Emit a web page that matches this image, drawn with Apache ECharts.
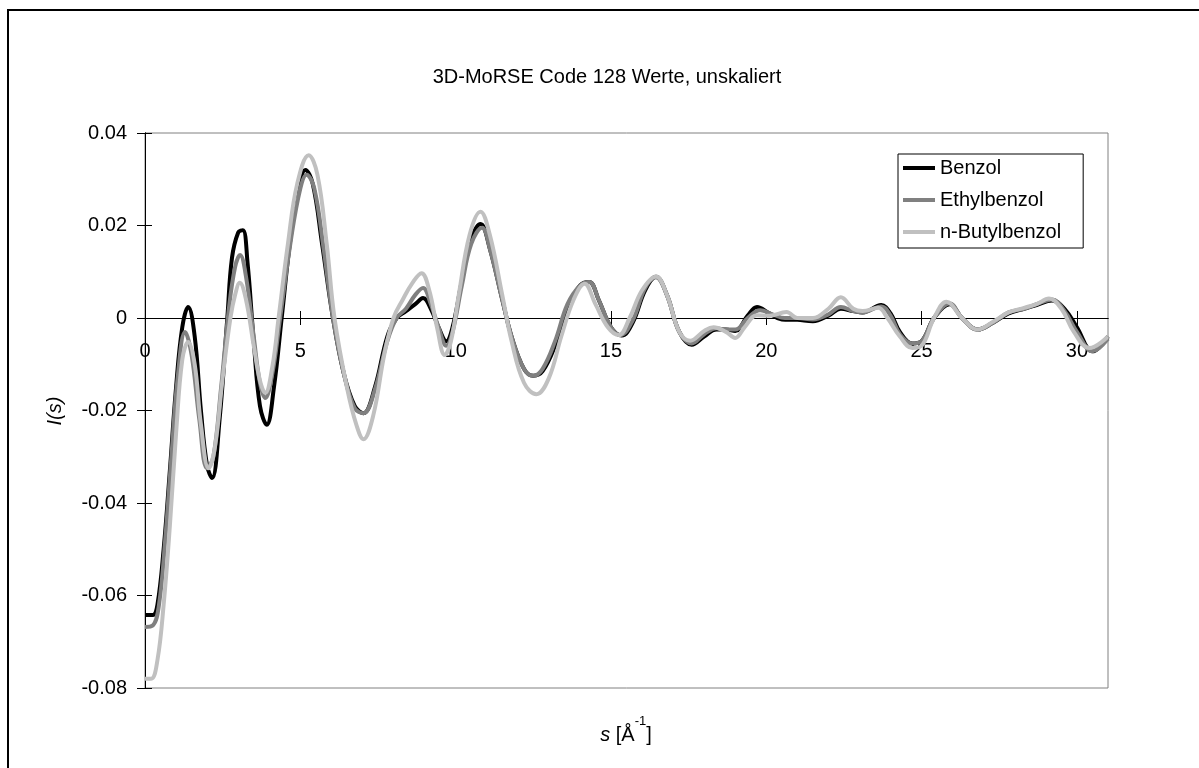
<!DOCTYPE html>
<html>
<head>
<meta charset="utf-8">
<script src="https://cdn.jsdelivr.net/npm/echarts@6/dist/echarts.min.js"></script>
<style>
html,body{margin:0;padding:0;background:#fff;}
#chart{width:1199px;height:768px;}
</style>
</head>
<body>
<div id="chart"></div>
<script>
// ---- data ----
const seriesNames = ['Benzol', 'Ethylbenzol', 'n-Butylbenzol'];
const xTicks = [0, 5, 10, 15, 20, 25, 30];
const yTicks = [-0.08, -0.06, -0.04, -0.02, 0, 0.02, 0.04];

// [s, I(s)] key points
const benzol = [
 [0,-0.0642],[0.25,-0.0642],[0.4,-0.062],[0.6,-0.05],[0.8,-0.033],[1.0,-0.015],[1.2,-0.002],[1.39,0.0024],
 [1.6,-0.004],[1.8,-0.02],[2.0,-0.032],[2.16,-0.0346],[2.4,-0.022],[2.65,0.0],[2.8,0.013],[3.0,0.0185],
 [3.15,0.019],[3.3,0.012],[3.5,-0.005],[3.7,-0.019],[3.92,-0.0231],[4.15,-0.015],[4.4,0.0],[4.7,0.018],
 [5.0,0.0295],[5.16,0.032],[5.4,0.029],[5.7,0.016],[6.05,0.0],[6.4,-0.012],[6.75,-0.019],[7.03,-0.0206],
 [7.4,-0.015],[7.8,-0.004],[8.1,0.0],[8.4,0.0015],[8.7,0.003],[8.95,0.0043],[9.2,0.002],[9.45,-0.002],
 [9.7,-0.005],[9.9,-0.002],[10.2,0.008],[10.5,0.017],[10.8,0.0203],[11.1,0.015],[11.5,0.004],[11.8,-0.004],
 [12.2,-0.011],[12.5,-0.0125],[12.8,-0.0115],[13.2,-0.006],[13.6,0.002],[14.0,0.007],[14.3,0.0078],[14.6,0.004],
 [15.0,-0.002],[15.35,-0.0038],[15.7,-0.001],[16.1,0.006],[16.45,0.0089],[16.8,0.005],[17.2,-0.003],[17.6,-0.0058],
 [18.0,-0.004],[18.4,-0.0025],[18.7,-0.0025],[19.0,-0.0028],[19.4,0.0005],[19.7,0.0024],[20.1,0.001],[20.5,-0.0003],
 [21.0,-0.0004],[21.5,-0.0007],[22.0,0.0005],[22.4,0.002],[22.8,0.0015],[23.1,0.0012],[23.7,0.0028],[24.0,0.001],
 [24.3,-0.003],[24.7,-0.0055],[25.0,-0.005],[25.4,0.0],[25.9,0.003],[26.3,0.0],[26.8,-0.0025],[27.3,-0.001],
 [27.8,0.001],[28.3,0.002],[28.7,0.0028],[29.2,0.0038],[29.6,0.002],[30.0,-0.002],[30.5,-0.0072],[31.0,-0.004]
];
const ethylbenzol = [
 [0,-0.0668],[0.25,-0.0665],[0.45,-0.062],[0.65,-0.048],[0.85,-0.03],[1.05,-0.013],[1.29,-0.003],[1.5,-0.008],
 [1.75,-0.022],[2.0,-0.0325],[2.2,-0.03],[2.45,-0.015],[2.7,0.002],[2.9,0.011],[3.06,0.0136],[3.25,0.009],
 [3.5,-0.004],[3.7,-0.014],[3.87,-0.0173],[4.1,-0.012],[4.35,0.0],[4.7,0.017],[5.0,0.028],[5.2,0.031],
 [5.45,0.028],[5.75,0.015],[6.05,0.0],[6.4,-0.012],[6.75,-0.0195],[7.03,-0.0206],[7.4,-0.0155],[7.8,-0.005],
 [8.1,0.0],[8.4,0.002],[8.7,0.005],[8.95,0.0065],[9.2,0.003],[9.45,-0.002],[9.7,-0.006],[9.9,-0.003],
 [10.2,0.007],[10.5,0.016],[10.85,0.0195],[11.1,0.015],[11.5,0.004],[11.8,-0.004],[12.2,-0.011],[12.5,-0.0125],
 [12.8,-0.011],[13.2,-0.005],[13.6,0.003],[14.0,0.007],[14.3,0.0078],[14.6,0.004],[15.0,-0.002],[15.3,-0.0037],
 [15.7,-0.0005],[16.1,0.0065],[16.45,0.0088],[16.8,0.005],[17.2,-0.003],[17.6,-0.0055],[18.0,-0.0035],[18.4,-0.0022],
 [18.7,-0.0025],[19.0,-0.0025],[19.4,0.0],[19.8,0.0017],[20.2,0.0008],[20.6,0.0],[21.0,0.0],[21.5,-0.0003],
 [22.0,0.0008],[22.4,0.0024],[22.8,0.0015],[23.1,0.0012],[23.7,0.0025],[24.0,0.0005],[24.3,-0.0035],[24.7,-0.0055],
 [25.0,-0.005],[25.4,0.0],[25.9,0.0032],[26.3,0.0],[26.8,-0.0025],[27.3,-0.001],[27.8,0.0012],[28.3,0.002],
 [28.7,0.003],[29.2,0.004],[29.6,0.0015],[30.0,-0.003],[30.5,-0.0072],[31.0,-0.0045]
];
const butylbenzol = [
 [0,-0.078],[0.2,-0.078],[0.4,-0.074],[0.6,-0.062],[0.8,-0.045],[1.0,-0.025],[1.2,-0.009],[1.39,-0.0052],
 [1.6,-0.01],[1.8,-0.023],[2.05,-0.0325],[2.25,-0.028],[2.5,-0.013],[2.75,0.0],[2.9,0.005],[3.05,0.0076],
 [3.25,0.004],[3.5,-0.006],[3.7,-0.0135],[3.87,-0.0162],[4.1,-0.0105],[4.3,0.0],[4.6,0.016],[4.9,0.029],
 [5.27,0.0352],[5.55,0.031],[5.85,0.016],[6.1,0.0],[6.5,-0.015],[6.8,-0.023],[7.03,-0.0262],[7.35,-0.021],
 [7.7,-0.008],[8.0,0.0],[8.3,0.004],[8.6,0.0075],[8.9,0.0097],[9.15,0.006],[9.4,-0.002],[9.65,-0.008],
 [9.85,-0.005],[10.1,0.005],[10.45,0.018],[10.8,0.023],[11.1,0.018],[11.5,0.005],[11.8,-0.005],[12.2,-0.014],
 [12.6,-0.0165],[13.0,-0.013],[13.4,-0.004],[13.8,0.004],[14.15,0.0074],[14.5,0.003],[14.9,-0.002],[15.25,-0.0037],
 [15.6,0.0],[16.0,0.006],[16.45,0.009],[16.8,0.005],[17.2,-0.003],[17.55,-0.0049],[18.0,-0.0028],[18.3,-0.002],
 [18.7,-0.003],[19.0,-0.0043],[19.3,-0.002],[19.7,0.0006],[20.1,0.0005],[20.65,0.0013],[21.0,0.0],[21.5,0.0],
 [22.0,0.002],[22.4,0.0045],[22.8,0.002],[23.1,0.0015],[23.6,0.0022],[23.9,0.0],[24.3,-0.004],[24.7,-0.0065],
 [25.0,-0.006],[25.4,0.0],[25.8,0.0035],[26.3,0.0],[26.8,-0.0025],[27.3,-0.0008],[27.8,0.0012],[28.3,0.0022],
 [28.7,0.003],[29.1,0.0042],[29.5,0.002],[29.9,-0.003],[30.4,-0.0065],[31.0,-0.004]
];

// ---- chart ----
const FONT = 'Liberation Sans, Arial, sans-serif';
const colors = ['#000000', '#808080', '#c0c0c0'];
const chart = echarts.init(document.getElementById('chart'), null, {renderer: 'canvas'});

const GRID = {left: 145, top: 133, right: 91, bottom: 80};
const plotW = 1199 - GRID.left - GRID.right;
const plotH = 768 - GRID.top - GRID.bottom;
const Y_MIN = -0.08, Y_MAX = 0.04;
// pixel distance of the y = 0 line from the grid's top and bottom (x axis crosses there)
const zeroFromTop = plotH * (Y_MAX - 0) / (Y_MAX - Y_MIN);
const zeroFromBottom = plotH - zeroFromTop;

function yFmt(v) {
  if (Math.abs(v) < 1e-12) return '0';
  return v.toFixed(2);
}

const xCommon = {type: 'value', min: 0, max: 31, splitLine: {show: false}};
const yCommon = {type: 'value', min: Y_MIN, max: Y_MAX, interval: 0.02, splitLine: {show: false}};

chart.setOption({
  animation: false,
  backgroundColor: '#ffffff',
  grid: Object.assign({show: true, borderColor: '#808080', borderWidth: 1, backgroundColor: '#ffffff'}, GRID),
  xAxis: [
    Object.assign({}, xCommon, {
      position: 'bottom', offset: -zeroFromBottom,
      axisLine: {onZero: false, lineStyle: {color: '#000', width: 1}},
      axisTick: {show: true, length: 7, customValues: xTicks, lineStyle: {color: '#000'}},
      axisLabel: {customValues: xTicks, margin: 23, color: '#000', fontFamily: FONT, fontSize: 20}
    }),
    Object.assign({}, xCommon, {
      position: 'top', offset: -zeroFromTop,
      axisLine: {onZero: false, lineStyle: {color: '#000', width: 1}},
      axisTick: {show: true, length: 7, customValues: xTicks, lineStyle: {color: '#000'}},
      axisLabel: {show: false}
    })
  ],
  yAxis: [
    Object.assign({}, yCommon, {
      position: 'left',
      axisLine: {show: true, onZero: false, lineStyle: {color: '#000', width: 1}},
      axisTick: {show: true, length: 8, lineStyle: {color: '#000'}},
      axisLabel: {margin: 18, color: '#000', fontFamily: FONT, fontSize: 20, formatter: yFmt}
    }),
    Object.assign({}, yCommon, {
      position: 'right', offset: -plotW,
      axisLine: {show: true, onZero: false, lineStyle: {color: '#000', width: 1}},
      axisTick: {show: true, length: 7, lineStyle: {color: '#000'}},
      axisLabel: {show: false}
    })
  ],
  legend: {
    orient: 'vertical', left: 898, top: 154,
    backgroundColor: '#ffffff', borderColor: '#000', borderWidth: 1, borderRadius: 0,
    padding: [4, 22, 6, 5], itemGap: 12, itemWidth: 32, itemHeight: 4, icon: 'rect',
    textStyle: {color: '#000', fontFamily: FONT, fontSize: 20, lineHeight: 20},
    data: seriesNames
  },
  graphic: [
    {type: 'rect', silent: true, z: 100, shape: {x: 8, y: 10, width: 1300, height: 1000}, style: {fill: 'none', stroke: '#000', lineWidth: 2}},
    {type: 'text', x: 607, y: 77, style: {text: '3D-MoRSE Code 128 Werte, unskaliert', fontFamily: FONT, fontSize: 20, fill: '#000', textAlign: 'center', textVerticalAlign: 'middle'}},
    {type: 'text', x: 55, y: 411, rotation: Math.PI / 2, style: {text: 'I(s)', fontFamily: FONT, fontSize: 20, fontStyle: 'italic', fill: '#000', textAlign: 'center', textVerticalAlign: 'middle'}},
    {type: 'text', x: 626, y: 730, style: {
      text: '{i|s}{t| [Å}{sup|-1}{t|]}', fill: '#000', textAlign: 'center', textVerticalAlign: 'middle',
      rich: {
        i: {fontStyle: 'italic', fontFamily: FONT, fontSize: 20, lineHeight: 30, verticalAlign: 'bottom'},
        t: {fontFamily: FONT, fontSize: 20, lineHeight: 30, verticalAlign: 'bottom'},
        sup: {fontFamily: FONT, fontSize: 13, lineHeight: 14, verticalAlign: 'top'}
      }
    }}
  ],
  series: [
    {name: seriesNames[0], type: 'line', data: benzol, smooth: 0.4, showSymbol: false, lineStyle: {width: 4, color: colors[0]}, itemStyle: {color: colors[0]}},
    {name: seriesNames[1], type: 'line', data: ethylbenzol, smooth: 0.4, showSymbol: false, lineStyle: {width: 4, color: colors[1]}, itemStyle: {color: colors[1]}},
    {name: seriesNames[2], type: 'line', data: butylbenzol, smooth: 0.4, showSymbol: false, lineStyle: {width: 4, color: colors[2]}, itemStyle: {color: colors[2]}}
  ]
});
</script>
</body>
</html>
